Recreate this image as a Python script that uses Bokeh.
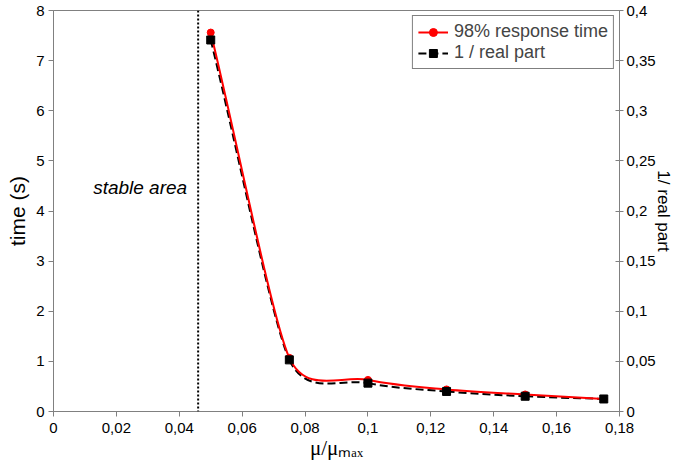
import math
from bokeh.plotting import figure
from bokeh.models import (Range1d, LinearAxis, FixedTicker, CustomJSTickFormatter,
                          Legend, LegendItem, Span)
from bokeh.core.properties import value
from bokeh.embed import file_html
from bokeh.resources import INLINE

# ---------------- data ----------------
mu_ratio = [0.05, 0.075, 0.1, 0.125, 0.15, 0.175]
response_time_98 = [7.56, 1.07, 0.63, 0.44, 0.34, 0.25]          # seconds (left axis)
inv_real_part = [0.3706, 0.0515, 0.0283, 0.0200, 0.0152, 0.0125]  # right axis
stable_limit = 0.046

x_ticks = [0, 0.02, 0.04, 0.06, 0.08, 0.1, 0.12, 0.14, 0.16, 0.18]
left_ticks = [0, 1, 2, 3, 4, 5, 6, 7, 8]
right_ticks = [0, 0.05, 0.1, 0.15, 0.2, 0.25, 0.3, 0.35, 0.4]

# ---------------- layout ----------------
BL, BR, BT, BB = 53, 52, 10, 53
W, H = 675, 464
FW, FH = W - BL - BR, H - BT - BB
X_MAX, Y_MAX, Y2_MAX = 0.18, 8, 0.4
AXIS_GRAY = "#808080"
SANS = "Liberation Sans"
SERIF = "Liberation Serif"

p = figure(width=W, height=H,
           x_range=Range1d(0, X_MAX), y_range=Range1d(0, Y_MAX),
           output_backend="svg", toolbar_location=None,
           min_border_left=BL, min_border_right=BR,
           min_border_top=BT, min_border_bottom=BB)
p.extra_y_ranges = {"right": Range1d(0, Y2_MAX)}
p.grid.visible = False
p.outline_line_color = AXIS_GRAY
p.background_fill_color = "white"
p.border_fill_color = "white"

fmt = CustomJSTickFormatter(code="return String(parseFloat(tick.toFixed(4))).replace('.', ',');")

right_axis = LinearAxis(y_range_name="right")
p.add_layout(right_axis, "right")

p.xaxis.ticker = FixedTicker(ticks=x_ticks)
p.yaxis[0].ticker = FixedTicker(ticks=left_ticks)
right_axis.ticker = FixedTicker(ticks=right_ticks)

for ax in [p.xaxis[0], p.yaxis[0], right_axis]:
    ax.formatter = fmt
    ax.axis_line_color = AXIS_GRAY
    ax.major_tick_line_color = AXIS_GRAY
    ax.minor_tick_line_color = None
    ax.major_label_text_font = SANS
    ax.major_label_text_font_size = "15px"
    ax.major_label_text_color = "black"
    ax.axis_label_text_color = "black"
    ax.axis_label_text_font_style = "normal"

p.xaxis[0].major_tick_out = 5
p.xaxis[0].major_tick_in = 0
p.xaxis[0].major_label_standoff = 6
p.xaxis[0].axis_label = "\u03bc/\u03bc\u2098\u2090\u2093"
p.xaxis[0].axis_label_text_font = SERIF
p.xaxis[0].axis_label_text_font_size = "21px"
p.xaxis[0].axis_label_standoff = 0

p.yaxis[0].major_tick_out = 5
p.yaxis[0].major_tick_in = 0
p.yaxis[0].major_label_standoff = 4
p.yaxis[0].axis_label = "time (s)"
p.yaxis[0].axis_label_text_font = SANS
p.yaxis[0].axis_label_text_font_size = "21px"
p.yaxis[0].axis_label_standoff = 4

right_axis.major_tick_out = 4
right_axis.major_tick_in = 4
right_axis.major_label_standoff = 3
right_axis.axis_label = "1/ real part"
right_axis.axis_label_text_font = SANS
right_axis.axis_label_text_font_size = "17px"
right_axis.axis_label_standoff = -5


# ---------------- smooth line (Bezier through the data points) ----------------
def smooth_controls(xs, ys, xscale, yscale, k=0.5):
    P = [(x * xscale, y * yscale) for x, y in zip(xs, ys)]
    n = len(P)

    def dist(a, b):
        return math.hypot(b[0] - a[0], b[1] - a[1])

    def tangent(i):
        a = P[max(i - 1, 0)]
        b = P[min(i + 1, n - 1)]
        L = dist(a, b)
        return ((b[0] - a[0]) / L, (b[1] - a[1]) / L), L

    seg = [dist(P[i], P[i + 1]) for i in range(n - 1)]
    cx0, cy0, cx1, cy1 = [], [], [], []
    for i in range(n - 1):
        d = seg[i]
        t0, span0 = tangent(i)
        t1, span1 = tangent(i + 1)
        arm0 = d / 3 if i == 0 else min(span0 / 6, k * min(d, seg[i - 1]))
        arm1 = d / 3 if i + 1 == n - 1 else min(span1 / 6, k * min(d, seg[i + 1]))
        c0 = (P[i][0] + arm0 * t0[0], P[i][1] + arm0 * t0[1])
        c1 = (P[i + 1][0] - arm1 * t1[0], P[i + 1][1] - arm1 * t1[1])
        cx0.append(c0[0] / xscale); cy0.append(c0[1] / yscale)
        cx1.append(c1[0] / xscale); cy1.append(c1[1] / yscale)
    return dict(x0=xs[:-1], y0=ys[:-1], x1=xs[1:], y1=ys[1:],
                cx0=cx0, cy0=cy0, cx1=cx1, cy1=cy1)


xs_px = FW / X_MAX
red_curve = smooth_controls(mu_ratio, response_time_98, xs_px, FH / Y_MAX)
blk_curve = smooth_controls(mu_ratio, inv_real_part, xs_px, FH / Y2_MAX)

# stability limit
p.add_layout(Span(location=stable_limit, dimension="height", line_color="black",
                  line_width=2, line_dash="2 2"))

p.bezier(y_range_name="right", line_color="black", line_width=2, line_dash="8 4", **blk_curve)
p.bezier(line_color="red", line_width=2, **red_curve)
red_pts = p.scatter(mu_ratio, response_time_98, marker="circle", size=7, color="red")
blk_pts = p.scatter(mu_ratio, inv_real_part, y_range_name="right", marker="square",
                    size=8, color="black")

# legend proxies (same style as the curves, nothing drawn in the plot)
nan = float("nan")
red_leg = p.line([nan], [nan], line_color="red", line_width=2)
blk_leg = p.line([nan], [nan], line_color="black", line_width=2, line_dash="8 4")

legend = Legend(items=[LegendItem(label="98% response time", renderers=[red_leg, red_pts]),
                       LegendItem(label="1 / real part", renderers=[blk_leg, blk_pts])],
                location="top_right")
legend.margin = 5
legend.padding = 5
legend.spacing = 0
legend.border_line_color = "black"
legend.border_line_width = 1
legend.background_fill_alpha = 1
legend.label_text_font = SANS
legend.label_text_font_size = "18px"
legend.label_height = 20
legend.glyph_height = 20
legend.glyph_width = 30
legend.label_standoff = 6
p.add_layout(legend)

# text
p.text(x=[0.0425], y=[4.47], text=["stable area"], text_align="right",
       text_baseline="middle", text_font=value(SANS), text_font_style="italic",
       text_font_size="19px", text_color="black")

open("out.html", "w").write(file_html(p, INLINE))
